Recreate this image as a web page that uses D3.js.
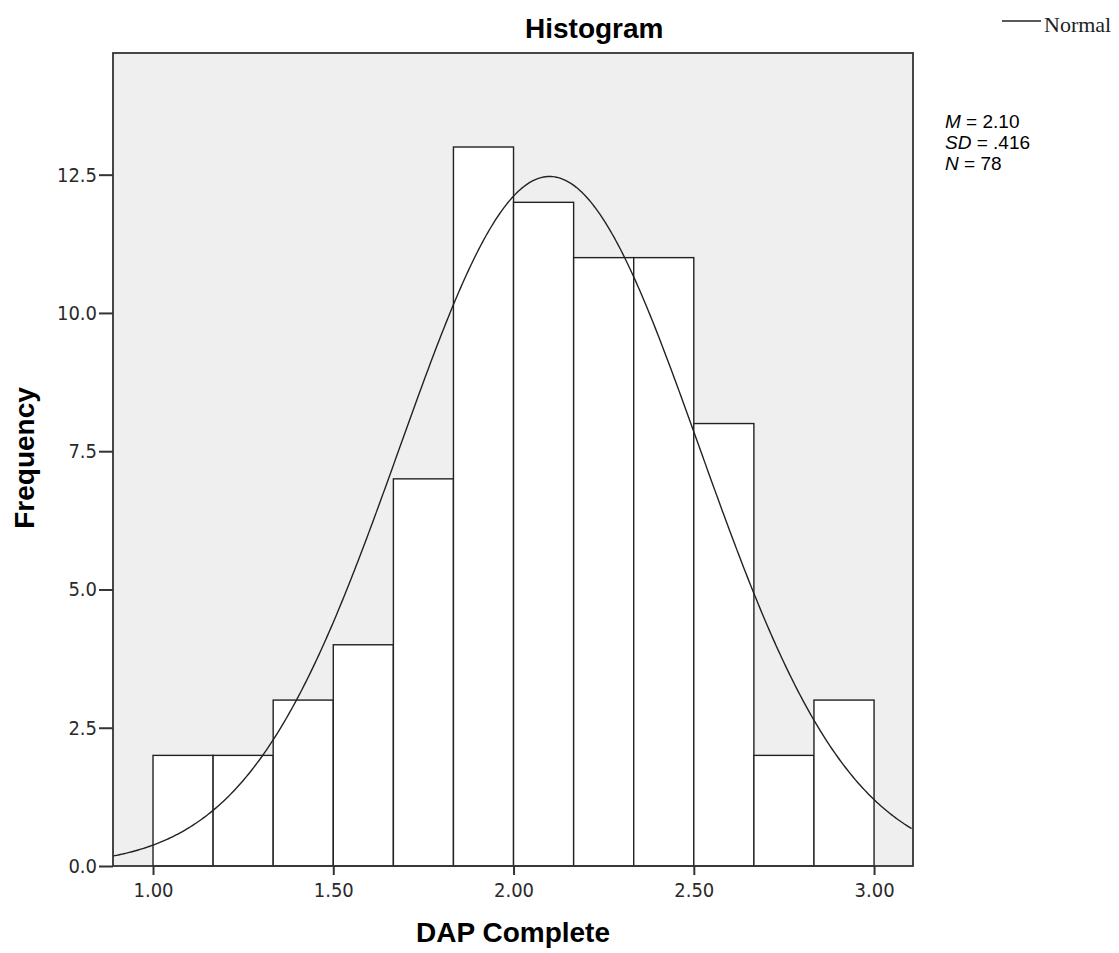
<!DOCTYPE html>
<html>
<head>
<meta charset="utf-8">
<script src="https://cdn.jsdelivr.net/npm/d3@7"></script>
<style>
  body { margin: 0; background: #fff; }
</style>
</head>
<body>
<div id="wrapper"></div>
<script>
// histogram bins (lower edges) and counts
const binStarts = [1.0, 1.1667, 1.3333, 1.5, 1.6667, 1.8333, 2.0, 2.1667, 2.3333, 2.5, 2.6667, 2.8333];
const binWidth = 1 / 6;
const counts = [2, 2, 3, 4, 7, 13, 12, 11, 11, 8, 2, 3];
const xTicks = [1.0, 1.5, 2.0, 2.5, 3.0];
const yTicks = [0, 2.5, 5, 7.5, 10, 12.5];
const statsMean = 2.10;
const statsSD = 0.416;
const statsN = 78;

function build() {
    const dimension = {
        width: 1119,
        height: 953,
        margin: { top: 53, right: 206, bottom: 87, left: 113 }
    };
    dimension.boundedWidth = dimension.width - dimension.margin.left - dimension.margin.right;
    dimension.boundedHeight = dimension.height - dimension.margin.top - dimension.margin.bottom;

    const svg = d3.select("#wrapper")
        .append("svg")
        .attr("width", dimension.width)
        .attr("height", dimension.height);

    const bounds = svg.append("g")
        .attr("transform", `translate(${dimension.margin.left},${dimension.margin.top})`);

    const x = d3.scaleLinear().domain([0.889, 3.108]).range([0, dimension.boundedWidth]);
    const y = d3.scaleLinear().domain([0, 14.7]).range([dimension.boundedHeight, 0]);

    // plot background
    bounds.append("rect")
        .attr("width", dimension.boundedWidth)
        .attr("height", dimension.boundedHeight)
        .attr("fill", "#efefef");

    // bars
    bounds.selectAll("rect.bar")
        .data(counts)
        .enter()
        .append("rect")
        .attr("class", "bar")
        .attr("x", (d, i) => x(binStarts[i]))
        .attr("y", d => y(d))
        .attr("width", (d, i) => x(binStarts[i] + binWidth) - x(binStarts[i]))
        .attr("height", d => y(0) - y(d))
        .attr("fill", "#fff")
        .attr("stroke", "#222")
        .attr("stroke-width", 1.4);

    // fitted normal curve from M, SD, N
    const xs = d3.range(0.889, 3.1081, 0.005);
    const pdf = v => statsN * binWidth * Math.exp(-0.5 * ((v - statsMean) / statsSD) ** 2) / (statsSD * Math.sqrt(2 * Math.PI));
    bounds.append("path")
        .datum(xs)
        .attr("fill", "none")
        .attr("stroke", "#222")
        .attr("stroke-width", 1.4)
        .attr("d", d3.line().x(d => x(d)).y(d => y(pdf(d))));

    // frame
    bounds.append("rect")
        .attr("width", dimension.boundedWidth)
        .attr("height", dimension.boundedHeight)
        .attr("fill", "none")
        .attr("stroke", "#333")
        .attr("stroke-width", 1.8);

    // axes
    const yAxis = bounds.append("g")
        .call(d3.axisLeft(y).tickValues(yTicks).tickFormat(d3.format(".1f")).tickSize(14).tickPadding(2));
    const xAxis = bounds.append("g")
        .attr("transform", `translate(0,${dimension.boundedHeight})`)
        .call(d3.axisBottom(x).tickValues(xTicks).tickFormat(d3.format(".2f")).tickSize(9).tickPadding(8));
    [xAxis, yAxis].forEach(a => {
        a.select(".domain").remove();
        a.selectAll(".tick line").attr("stroke", "#333").attr("stroke-width", 2);
        a.selectAll(".tick text")
            .attr("fill", "#2a2a2a")
            .style("font-family", "'DejaVu Sans Condensed', 'DejaVu Sans', sans-serif")
            .style("font-size", "20px");
    });

    // titles
    svg.append("text")
        .attr("x", 525)
        .attr("y", 38)
        .attr("text-anchor", "start")
        .style("font-family", "Arial, 'Liberation Sans', sans-serif")
        .style("font-weight", "bold")
        .style("font-size", "28px")
        .text("Histogram");

    svg.append("text")
        .attr("x", 513)
        .attr("y", 942)
        .attr("text-anchor", "middle")
        .style("font-family", "Arial, 'Liberation Sans', sans-serif")
        .style("font-weight", "bold")
        .style("font-size", "28px")
        .text("DAP Complete");

    svg.append("text")
        .attr("transform", `translate(34,458) rotate(-90)`)
        .attr("text-anchor", "middle")
        .style("font-family", "Arial, 'Liberation Sans', sans-serif")
        .style("font-weight", "bold")
        .style("font-size", "28px")
        .text("Frequency");

    // legend
    svg.append("line")
        .attr("x1", 1002).attr("x2", 1041)
        .attr("y1", 21).attr("y2", 21)
        .attr("stroke", "#222").attr("stroke-width", 1.4);
    svg.append("text")
        .attr("x", 1044)
        .attr("y", 32)
        .attr("fill", "#222")
        .style("font-family", "'Liberation Serif', 'DejaVu Serif', serif")
        .style("font-size", "22px")
        .text("Normal");

    // stats block
    const stats = [
        ["M", "= 2.10"],
        ["SD", "= .416"],
        ["N", "= 78"]
    ];
    const st = svg.append("g")
        .style("font-family", "Arial, 'Liberation Sans', sans-serif")
        .style("font-size", "19px");
    stats.forEach((s, i) => {
        const t = st.append("text").attr("x", 945).attr("y", 128 + i * 21);
        t.append("tspan").style("font-style", "italic").text(s[0]);
        t.append("tspan").text(" " + s[1]);
    });
}
build();
</script>
</body>
</html>
